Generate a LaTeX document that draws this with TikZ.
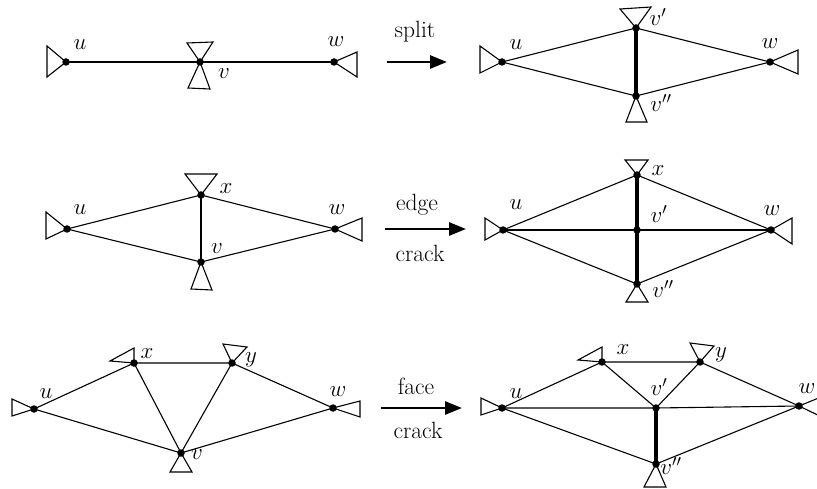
\RequirePackage{fix-cm}
\documentclass[tikz,border=0pt]{standalone}
\usetikzlibrary{arrows.meta}
\begin{document}
\begin{tikzpicture}[x=1pt,y=-1pt,
  edge/.style={line width=1.1pt},
  thickedge/.style={line width=3.8pt},
  tri/.style={line width=1.1pt, line join=miter},
  dot/.style={circle, fill=black, inner sep=0pt, minimum size=7.5pt},
  lab/.style={font=\fontsize{23}{27}\selectfont, inner sep=0pt},
  txt/.style={font=\fontsize{23.5}{28}\selectfont, inner sep=0pt},
  bigarrow/.style={line width=2.8pt, -{Triangle[length=17pt,width=13pt]}}]
\useasboundingbox (0,0) rectangle (817,489);
% ---------------- Row 1 left
\coordinate (au) at (66,62);
\coordinate (av) at (200,62);
\coordinate (aw) at (334,62);
\draw[edge] (au) -- (av) -- (aw);
\draw[tri] (au) -- (47,46) -- (47,77) -- cycle;
\draw[tri] (av) -- (187,43) -- (213,42) -- cycle;
\draw[tri] (av) -- (188,88) -- (210,89) -- cycle;
\draw[tri] (aw) -- (357,52) -- (357,77) -- cycle;
\node[dot] at (au) {}; \node[dot] at (av) {}; \node[dot] at (aw) {};
\node[lab] at (80,45) {$u$};
\node[lab] at (224,74) {$v$};
\node[lab] at (336,42) {$w$};
% arrow 1
\coordinate (a1s) at (387,62); \coordinate (a1e) at (447,62);
\draw[bigarrow] (a1s) -- (a1e);
\node[txt] (split) at (415,32) {split};
% ---------------- Row 1 right
\coordinate (bu) at (502,62);
\coordinate (bv1) at (636,28);
\coordinate (bv2) at (636,96);
\coordinate (bw) at (770,62);
\draw[edge] (bu) -- (bv1) -- (bw) -- (bv2) -- cycle;
\draw[thickedge] (bv1) -- (bv2);
\draw[tri] (bu) -- (480,46) -- (480,73) -- cycle;
\draw[tri] (bv1) -- (620,9) -- (651,7) -- cycle;
\draw[tri] (bv2) -- (626,122) -- (647,122) -- cycle;
\draw[tri] (bw) -- (798,50) -- (798,74) -- cycle;
\node[dot] at (bu) {}; \node[dot] at (bv1) {}; \node[dot] at (bv2) {}; \node[dot] at (bw) {};
\node[lab] at (516,45) {$u$};
\node[lab] at (658,17) {$v'$};
\node[lab] at (661,103) {$v''$};
\node[lab] at (770,44) {$w$};
% ---------------- Row 2 left
\coordinate (cu) at (67,229);
\coordinate (cx) at (201,195);
\coordinate (cv) at (201,262);
\coordinate (cw) at (335,229);
\draw[edge] (cu) -- (cx) -- (cw) -- (cv) -- cycle;
\draw[edge] (cx) -- (cv);
\draw[tri] (cu) -- (46,212) -- (46,239) -- cycle;
\draw[tri] (cx) -- (185,174) -- (217,174) -- cycle;
\draw[tri] (cv) -- (191,289) -- (212,290) -- cycle;
\draw[tri] (cw) -- (362,218) -- (362,241) -- cycle;
\node[dot] at (cu) {}; \node[dot] at (cx) {}; \node[dot] at (cv) {}; \node[dot] at (cw) {};
\node[lab] at (80,210) {$u$};
\node[lab] at (226,189) {$x$};
\node[lab] at (217,249) {$v$};
\node[lab] at (337,210) {$w$};
% arrow 2
\coordinate (a2s) at (385,229); \coordinate (a2e) at (466,229);
\draw[bigarrow] (a2s) -- (a2e);
\node[txt] at (417,205) {edge};
\node[txt] at (420,253) {crack};
% ---------------- Row 2 right
\coordinate (du) at (503,230);
\coordinate (dx) at (637,175);
\coordinate (dv1) at (637,230);
\coordinate (dv2) at (637,284);
\coordinate (dw) at (771,230);
\draw[edge] (du) -- (dx) -- (dw) -- (dv2) -- cycle;
\draw[edge] (du) -- (dv1) -- (dw);
\draw[thickedge] (dx) -- (dv1) -- (dv2);
\draw[tri] (du) -- (485,218) -- (485,240) -- cycle;
\draw[tri] (dx) -- (625,160) -- (648,160) -- cycle;
\draw[tri] (dv2) -- (626,302) -- (648,302) -- cycle;
\draw[tri] (dw) -- (792,218) -- (792,244) -- cycle;
\node[dot] at (du) {}; \node[dot] at (dx) {}; \node[dot] at (dv1) {}; \node[dot] at (dv2) {}; \node[dot] at (dw) {};
\node[lab] at (516,205) {$u$};
\node[lab] at (658,171) {$x$};
\node[lab] at (659,214) {$v'$};
\node[lab] at (663,289) {$v''$};
\node[lab] at (772,211) {$w$};
% ---------------- Row 3 left
\coordinate (eu) at (34,409);
\coordinate (ex) at (134,363);
\coordinate (ey) at (232,363);
\coordinate (ev) at (181,453);
\coordinate (ew) at (333,408);
\draw[edge] (eu) -- (ex) -- (ey) -- (ew) -- (ev) -- cycle;
\draw[edge] (ex) -- (ev) -- (ey);
\draw[tri] (eu) -- (12,399) -- (12,416) -- cycle;
\draw[tri] (ex) -- (110,361) -- (134,348) -- cycle;
\draw[tri] (ey) -- (223,344) -- (247,347) -- cycle;
\draw[tri] (ev) -- (170,472) -- (192,472) -- cycle;
\draw[tri] (ew) -- (360,401) -- (360,417) -- cycle;
\node[dot] at (eu) {}; \node[dot] at (ex) {}; \node[dot] at (ey) {}; \node[dot] at (ev) {}; \node[dot] at (ew) {};
\node[lab] at (46,394) {$u$};
\node[lab] at (147,354) {$x$};
\node[lab] at (251,360) {$y$};
\node[lab] at (197,455) {$v$};
\node[lab] at (338,392) {$w$};
% arrow 3
\coordinate (a3s) at (381,408); \coordinate (a3e) at (462,408);
\draw[bigarrow] (a3s) -- (a3e);
\node[txt] at (416,386) {face};
\node[txt] at (418,430) {crack};
% ---------------- Row 3 right
\begin{scope}
\clip (0,0) rectangle (817,489);
\coordinate (fu) at (502,408);
\coordinate (fx) at (602,362);
\coordinate (fy) at (700,362);
\coordinate (fv1) at (656,408);
\coordinate (fv2) at (656,464);
\coordinate (fw) at (799,406);
\draw[edge] (fu) -- (fx) -- (fy) -- (fw) -- (fv2) -- cycle;
\draw[edge] (fu) -- (fv1) -- (fw);
\draw[edge] (fx) -- (fv1) -- (fy);
\draw[thickedge] (fv1) -- (fv2);
\draw[tri] (fu) -- (481,398) -- (481,415) -- cycle;
\draw[tri] (fx) -- (578,360) -- (602,347) -- cycle;
\draw[tri] (fy) -- (690,343) -- (714,346) -- cycle;
\draw[tri] (fv2) -- (644,487) -- (666,487) -- cycle;
\draw[tri] (fw) -- (826,395) -- (826,419) -- cycle;
\node[dot] at (fu) {}; \node[dot] at (fx) {}; \node[dot] at (fy) {}; \node[dot] at (fv1) {}; \node[dot] at (fv2) {}; \node[dot] at (fw) {};
\node[lab] at (516,394) {$u$};
\node[lab] at (623,350) {$x$};
\node[lab] at (721,355) {$y$};
\node[lab] at (659,387) {$v'$};
\node[lab] at (671,466) {$v''$};
\node[lab] at (807,389) {$w$};
\end{scope}
\end{tikzpicture}
\end{document}
